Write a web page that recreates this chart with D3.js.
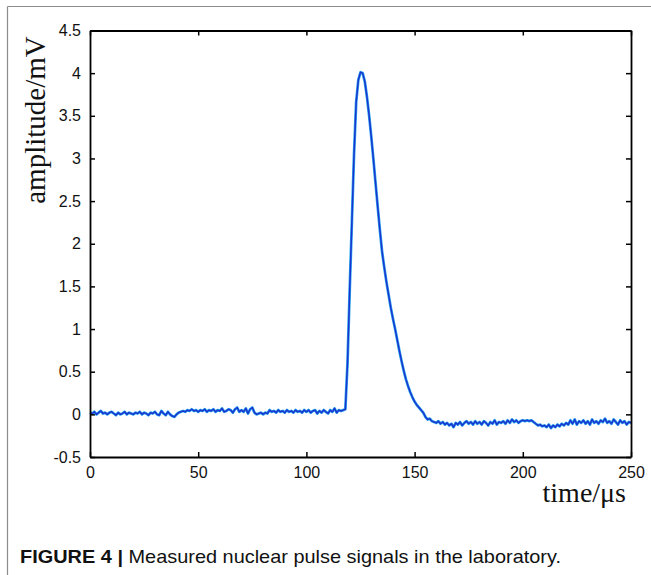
<!DOCTYPE html>
<html>
<head>
<meta charset="utf-8">
<script src="https://cdn.jsdelivr.net/npm/d3@7"></script>
<style>
  html, body { margin: 0; padding: 0; background: #fff; }
  svg { display: block; }
</style>
</head>
<body>
<svg id="chart" width="651" height="575"></svg>
<script>
// ---- data ----
const xTicks = [0, 50, 100, 150, 200, 250];
const yTicks = [-0.5, 0, 0.5, 1, 1.5, 2, 2.5, 3, 3.5, 4, 4.5];
const yTickLabels = ["-0.5", "0", "0.5", "1", "1.5", "2", "2.5", "3", "3.5", "4", "4.5"];
const xLabel = "time/\u03bcs";
const yLabel = "amplitude/mV";
const captionBold = "FIGURE 4 | ";
const captionText = "Measured nuclear pulse signals in the laboratory.";
// amplitude (mV) sampled every 1 µs, t = 0 … 250
const amplitude = [
  0.02, 0.01, 0.03, 0.00, 0.02, 0.04, 0.01, 0.02, 0.00, 0.02,
  0.03, 0.01, -0.01, 0.02, 0.00, 0.01, 0.03, 0.00, 0.02, 0.01,
  0.00, 0.02, 0.01, 0.03, 0.00, 0.02, 0.01, -0.01, 0.02, 0.01,
  0.03, 0.00, -0.01, 0.04, 0.01, -0.01, 0.03, 0.00, -0.02, -0.03,
  0.00, 0.02, 0.03, 0.04, 0.03, 0.05, 0.04, 0.06, 0.04, 0.05,
  0.03, 0.05, 0.04, 0.06, 0.03, 0.05, 0.04, 0.06, 0.03, 0.05,
  0.04, 0.07, 0.03, 0.04, 0.06, 0.05, 0.02, 0.06, 0.08, 0.03,
  0.05, 0.03, 0.07, 0.01, 0.06, 0.08, 0.02, 0.00, 0.01, 0.02,
  0.00, 0.02, 0.01, 0.05, 0.03, 0.04, 0.02, 0.05, 0.03, 0.04,
  0.02, 0.05, 0.03, 0.04, 0.02, 0.05, 0.03, 0.04, 0.02, 0.05,
  0.03, 0.05, 0.02, 0.04, 0.05, 0.01, 0.04, 0.02, 0.05, 0.03,
  0.01, 0.05, 0.03, 0.07, 0.02, 0.05, 0.04, 0.05, 0.06, 0.60,
  1.45, 2.24, 3.04, 3.66, 3.92, 4.01, 4.00, 3.90, 3.72, 3.50,
  3.25, 2.98, 2.70, 2.42, 2.15, 1.90, 1.72, 1.55, 1.40, 1.25,
  1.12, 1.00, 0.87, 0.74, 0.62, 0.51, 0.41, 0.33, 0.26, 0.20,
  0.15, 0.11, 0.08, 0.05, 0.02, -0.03, -0.06, -0.05, -0.08, -0.09,
  -0.10, -0.08, -0.11, -0.09, -0.12, -0.10, -0.13, -0.11, -0.15, -0.10,
  -0.12, -0.09, -0.13, -0.10, -0.08, -0.11, -0.09, -0.12, -0.08, -0.11,
  -0.09, -0.12, -0.08, -0.10, -0.13, -0.09, -0.11, -0.07, -0.12, -0.09,
  -0.10, -0.08, -0.11, -0.07, -0.10, -0.06, -0.09, -0.07, -0.10, -0.08,
  -0.07, -0.08, -0.07, -0.08, -0.07, -0.09, -0.11, -0.13, -0.12, -0.14,
  -0.13, -0.15, -0.12, -0.16, -0.13, -0.15, -0.12, -0.14, -0.11, -0.13,
  -0.10, -0.12, -0.07, -0.11, -0.06, -0.12, -0.08, -0.10, -0.07, -0.11,
  -0.08, -0.12, -0.06, -0.10, -0.08, -0.11, -0.07, -0.09, -0.05, -0.10,
  -0.08, -0.11, -0.06, -0.09, -0.12, -0.07, -0.10, -0.08, -0.12, -0.09,
  -0.10
];
const times = amplitude.map((_, i) => i);

// ---- layout ----
const svg = d3.select("#chart");
const L = 90, R = 631, T = 30.5, B = 457;

const x = d3.scaleLinear().domain([0, 250]).range([L, R]);
const y = d3.scaleLinear().domain([-0.5, 4.5]).range([B, T]);

// figure frame (gray, left and top)
svg.append("line").attr("x1", 7.5).attr("x2", 7.5).attr("y1", 6.5).attr("y2", 575)
  .attr("stroke", "#8c8c8c").attr("stroke-width", 1.2);
svg.append("line").attr("x1", 7.5).attr("x2", 651).attr("y1", 6.5).attr("y2", 6.5)
  .attr("stroke", "#8c8c8c").attr("stroke-width", 1.2);

// curve
const line = d3.line().x((d, i) => x(times[i])).y(d => y(d));
svg.append("path").datum(amplitude).attr("d", line)
  .attr("fill", "none").attr("stroke", "#2fa8f0").attr("stroke-width", 2.8)
  .attr("stroke-linejoin", "round");
svg.append("path").datum(amplitude).attr("d", line)
  .attr("fill", "none").attr("stroke", "#1a35cf").attr("stroke-width", 1.5)
  .attr("stroke-linejoin", "round");

// axes
const tickFont = "'Liberation Sans', Arial, sans-serif";
const gB = svg.append("g").attr("transform", `translate(0,${B})`)
  .call(d3.axisBottom(x).tickValues(xTicks).tickSizeInner(-5).tickSizeOuter(0).tickPadding(10));
const gL = svg.append("g").attr("transform", `translate(${L},0)`)
  .call(d3.axisLeft(y).tickValues(yTicks).tickFormat((d, i) => yTickLabels[i]).tickSizeInner(-5).tickSizeOuter(0).tickPadding(9));
const gT = svg.append("g").attr("transform", `translate(0,${T})`)
  .call(d3.axisTop(x).tickValues(xTicks).tickSizeInner(-5).tickSizeOuter(0).tickFormat(""));
const gR = svg.append("g").attr("transform", `translate(${R},0)`)
  .call(d3.axisRight(y).tickValues(yTicks).tickSizeInner(-5).tickSizeOuter(0).tickFormat(""));

[gB, gL, gT, gR].forEach(g => {
  g.selectAll(".domain").attr("stroke", "#000").attr("stroke-width", 1.8);
  g.selectAll(".tick line").attr("stroke", "#000").attr("stroke-width", 1.5);
  g.selectAll("text").attr("fill", "#111").attr("font-family", tickFont).attr("font-size", 16);
});

// axis titles
svg.append("text").attr("transform", "translate(45,120) rotate(-90)")
  .attr("text-anchor", "middle").attr("font-family", "'Liberation Serif', 'Times New Roman', serif")
  .attr("font-size", 29).attr("fill", "#111").text(yLabel);
svg.append("text").attr("x", 626).attr("y", 502)
  .attr("text-anchor", "end").attr("font-family", "'Liberation Serif', 'Times New Roman', serif")
  .attr("font-size", 28).attr("fill", "#111").text(xLabel);

// caption
const cap = svg.append("text").attr("x", 20).attr("y", 563)
  .attr("font-family", tickFont).attr("font-size", 19).attr("fill", "#111")
  .attr("textLength", 541).attr("lengthAdjust", "spacingAndGlyphs");
cap.append("tspan").attr("font-weight", "bold").text(captionBold);
cap.append("tspan").text(captionText);
</script>
</body>
</html>
